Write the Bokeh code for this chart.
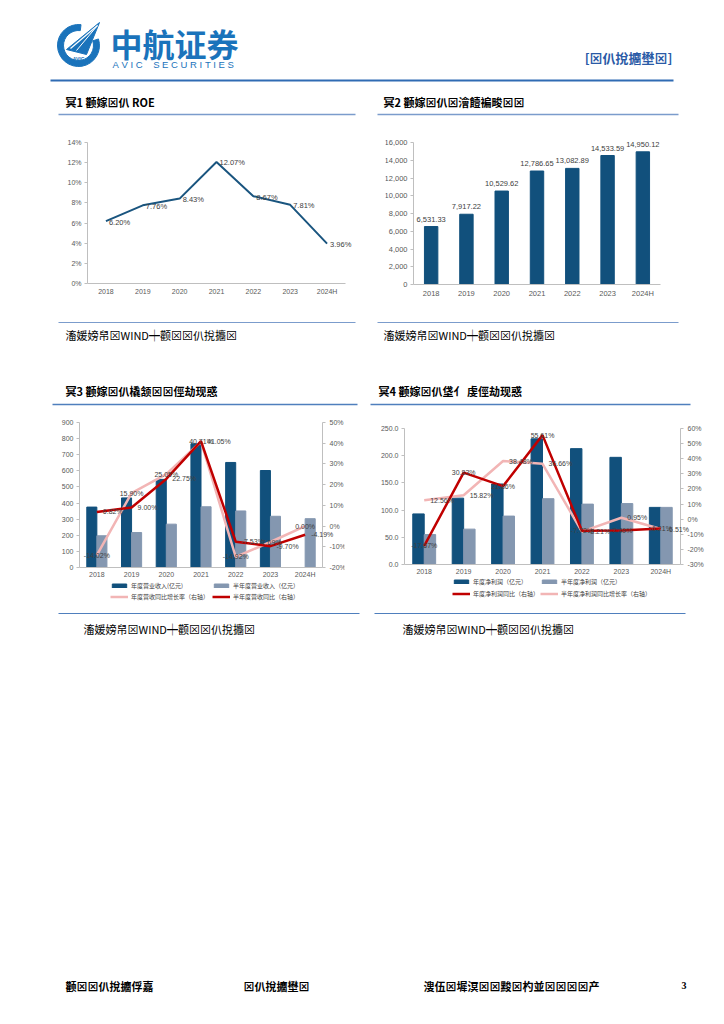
from bokeh.plotting import figure
from bokeh.layouts import column, row
from bokeh.models import (Range1d, FactorRange, LinearAxis, SingleIntervalTicker,
                          PrintfTickFormatter, NumeralTickFormatter, Legend, LegendItem,
                          ColumnDataSource, LabelSet)
from bokeh.transform import dodge
from bokeh.core.properties import value
from bokeh.embed import file_html
from bokeh.resources import INLINE

# ---------------- data ----------------
years = ["2018", "2019", "2020", "2021", "2022", "2023", "2024H"]
roe = [6.20, 7.76, 8.43, 12.07, 8.67, 7.81, 3.96]
equity = [6531.33, 7917.22, 10529.62, 12786.65, 13082.89, 14533.59, 14950.12]
rev_annual = [375, 432, 547, 768, 652, 602, float("nan")]
rev_half = [197, 217, 269, 377, 351, 318, 303]
rev_annual_yoy = [-14.02, 15.90, 25.05, 40.71, -14.92, -7.69, 0.00]
rev_half_yoy = [6.82, 9.00, 22.75, 41.05, -7.53, -9.70, -4.19]
np_annual = [93, 122, 148, 231, 213, 197, 105]
np_half = [55, 65, 89, 121, 111, 112, 105]
np_annual_yoy = [-17.67, 30.83, 21.86, 55.61, -7.72, -7.49, -6.21]
np_half_yoy = [12.56, 15.82, 38.48, 36.66, -8.21, 0.95, -6.51]

rev_legend = ["年度营业收入(亿元)", "半年度营业收入（亿元）", "年度营收同比增长率（右轴）", "半年度营收同比（右轴）"]
np_legend = ["年度净利润（亿元）", "半年度净利润（亿元）", "年度净利润同比（右轴）", "半年度净利润同比增长率（右轴）"]

titles = ["冥1  颧嫁⊠仈 ROE", "冥2  颧嫁⊠仈⊠澮饐褊畯⊠⊠",
          "冥3  颧嫁⊠仈橇颔⊠⊠俓劫现惑", "冥4  颧嫁⊠仈垡亻 虔俓劫现惑"]
source = "滀媛嫎帠⊠WIND┿颧⊠⊠仈挩攟⊠"
header_right = "[⊠仈挩攟壄⊠]"
footer = ["颧⊠⊠仈挩攟俘嘉", "⊠仈挩攟壄⊠", "溲伍⊠墀溟⊠⊠黢⊠杓並⊠⊠⊠⊠产", "3"]

NAVY = "#11507c"
GREY = "#8497b0"
RED = "#c00000"
PINK = "#f2b5b5"
AXC = "#bfbfbf"
TICKC = "#595959"
CJK = "Noto Sans CJK SC"
LAT = "Liberation Sans"
PAGE_W = 720
SPLIT = 366
N = len(years)


def deco(h, y0):
    p = figure(width=PAGE_W, height=h, x_range=Range1d(0, PAGE_W), y_range=Range1d(y0 + h, y0),
               output_backend="svg", toolbar_location=None, min_border=0,
               x_axis_location=None, y_axis_location=None)
    p.grid.visible = False
    p.outline_line_color = None
    return p


def txt(p, x, y, s, size, color="#000000", bold=False, font=CJK, align="left"):
    p.text(x=[x], y=[y], text=[s], text_font=value(font), text_font_size=f"{size}px",
           text_color=color, text_font_style="bold" if bold else "normal",
           text_align=align, text_baseline="middle")


def hline(p, x0, x1, y, color, w):
    p.line(x=[x0, x1], y=[y, y], line_color=color, line_width=w)


def style_axis(ax):
    ax.axis_line_color = AXC
    ax.major_tick_line_color = AXC
    ax.minor_tick_line_color = None
    ax.major_label_text_font = LAT
    ax.major_label_text_font_size = "7px"
    ax.major_label_text_color = TICKC


def yrange(lo, hi, lo_pix, hi_pix, frame_top, frame_bot):
    """Range whose value lo sits at page pixel lo_pix and hi at hi_pix, over the frame."""
    upp = (hi - lo) / (lo_pix - hi_pix)
    return Range1d(lo - (frame_bot - lo_pix) * upp, hi + (hi_pix - frame_top) * upp)


def chart(w, band_top, band_h, fig_x0, ax_l, ax_r, pad_px, frame_top, frame_bot):
    """Category axis spans page px ax_l..ax_r; frame is padded pad_px on both sides."""
    step = (ax_r - ax_l) / N
    pad = pad_px / step
    rng = FactorRange(factors=years, range_padding=2 * pad / N, range_padding_units="percent")
    left = ax_l - pad_px - fig_x0
    right = fig_x0 + w - (ax_r + pad_px)
    p = figure(width=w, height=band_h, x_range=rng, output_backend="svg", toolbar_location=None,
               min_border_left=int(round(left)), min_border_right=int(round(right)),
               min_border_top=frame_top - band_top, min_border_bottom=band_top + band_h - frame_bot)
    p.grid.visible = False
    p.outline_line_color = None
    for ax in p.axis:
        style_axis(ax)
    p.xaxis.major_tick_out = 0
    p.xaxis.major_tick_in = 0
    p.xaxis.bounds = (0, N)
    p.yaxis.major_tick_out = 3
    p.yaxis.major_tick_in = 0
    p.xaxis.major_label_standoff = 4
    p.yaxis.major_label_standoff = 2
    p.yaxis.fixed_location = 0
    p.xaxis.fixed_location = 0
    return p


def pct(vals):
    return [f"{v:.2f}%" for v in vals]


def labels(p, src, xcol, ycol, tcol, align, dx=0, dy=0, baseline="middle", yname="default", size="7px"):
    ls = LabelSet(x=xcol, y=ycol, text=tcol, source=src, y_range_name=yname,
                  text_font=value(LAT), text_font_size=size, text_color="#404040",
                  text_align=align, text_baseline=baseline, x_offset=dx, y_offset=dy)
    p.add_layout(ls)


# ---------------- header band (y 0..120) ----------------
hd = deco(120, 0)
hd.annular_wedge(x=[78], y=[45], inner_radius=15, outer_radius=21,
                 start_angle=1.45, end_angle=6.6, color="#1a73bb")
hd.patch(x=[66, 99, 86], y=[49, 22, 54], color="#1a73bb")
hd.line(x=[70, 97], y=[48, 25], line_color="white", line_width=1.2)
hd.line(x=[76, 97], y=[50, 25], line_color="white", line_width=1.0)
txt(hd, 78, 58, "AVIC", 5, "#1a73bb", bold=True, font=LAT, align="center")
txt(hd, 110, 42, "中航证券", 32, "#1a73bb", bold=True)
sp = "\u00a0"
avic = sp.join("AVIC") + sp * 4 + sp.join("SECURITIES")
txt(hd, 112, 64, avic, 9.5, "#1a73bb", font=LAT)
txt(hd, 672, 57, header_right, 13, "#2a5aa6", bold=True, align="right")
hline(hd, 50, 673, 80, "#2f6bb3", 2)
txt(hd, 65, 101, titles[0], 11, bold=True)
txt(hd, 383, 101, titles[1], 11, bold=True)
hline(hd, 58, 355, 114, "#7b9ccc", 1.5)
hline(hd, 377, 678, 114, "#7b9ccc", 1.5)

# shared frame extent for the first row (frames get aligned across a row)
R1_TOP, R1_BOT = 133, 300

# ---------------- chart 1: ROE (axis x 87..345; 14% at y 142, 0% at y 283) ----------------
c1 = chart(SPLIT, 120, 198, 0, 87, 345, 21, R1_TOP, R1_BOT)
c1.y_range = yrange(0, 14, 283, 142, R1_TOP, R1_BOT)
c1.yaxis.ticker = SingleIntervalTicker(interval=2)
c1.yaxis.formatter = PrintfTickFormatter(format="%d%%")
c1.yaxis.bounds = (0, 14)
s1 = ColumnDataSource(dict(x=years, y=roe, lab=pct(roe)))
c1.line("x", "y", source=s1, line_color="#1a557f", line_width=2)
labels(c1, s1, "x", "y", "lab", "left", dx=3, dy=-1, size="7.5px")

# ---------------- chart 2: equity (axis x 413..660; 16000 at y 142, 0 at y 284) ----------------
c2 = chart(PAGE_W - SPLIT, 120, 198, SPLIT, 413, 660, 28, R1_TOP, R1_BOT)
c2.y_range = yrange(0, 16000, 284, 142, R1_TOP, R1_BOT)
c2.yaxis.ticker = SingleIntervalTicker(interval=2000)
c2.yaxis.formatter = NumeralTickFormatter(format="0,0")
c2.yaxis.bounds = (0, 16000)
c2.yaxis.major_label_text_font_size = "7.5px"
c2.xaxis.major_label_text_font_size = "7.5px"
s2 = ColumnDataSource(dict(x=years, y=equity, lab=[f"{v:,.2f}" for v in equity]))
c2.vbar(x="x", top="y", width=0.38, source=s2, color=NAVY)
labels(c2, s2, "x", "y", "lab", "center", dy=5, baseline="bottom", size="7.5px")

# ---------------- middle band (y 318..408) ----------------
md = deco(90, 318)
hline(md, 58, 355, 322, "#7b9ccc", 1.2)
hline(md, 377, 678, 322, "#7b9ccc", 1.2)
txt(md, 65, 334, source, 11)
txt(md, 383, 334, source, 11)
txt(md, 65, 390, titles[2], 11, bold=True)
txt(md, 378, 390, titles[3], 11, bold=True)
hline(md, 52, 357, 404, "#4f7fbd", 1.5)
hline(md, 370, 690, 404, "#4f7fbd", 1.5)

R2_TOP, R2_BOT = 414, 604


def combo(w, fig_x0, ax_l, ax_r, pad_px, max_pix, zero_pix,
          ann, half, ann_yoy, half_yoy, ymax, yint, yfmt, pmin, pmax,
          legend_labels, red_is_half, leg_col_px, leg_y, leg_sp):
    frame_top, frame_bot = R2_TOP, R2_BOT
    p = chart(w, 408, 200, fig_x0, ax_l, ax_r, pad_px, frame_top, frame_bot)
    p.y_range = yrange(0, ymax, zero_pix, max_pix, frame_top, frame_bot)
    p.yaxis.ticker = SingleIntervalTicker(interval=yint)
    p.yaxis.formatter = PrintfTickFormatter(format=yfmt)
    p.yaxis.bounds = (0, ymax)
    p.xaxis.major_label_standoff = 3
    p.extra_y_ranges = {"pct": yrange(pmin, pmax, zero_pix, max_pix, frame_top, frame_bot)}
    rax = LinearAxis(y_range_name="pct", ticker=SingleIntervalTicker(interval=10),
                     formatter=PrintfTickFormatter(format="%d%%"), bounds=(pmin, pmax),
                     fixed_location=N)
    style_axis(rax)
    rax.major_tick_out = 3
    rax.major_tick_in = 0
    rax.major_label_standoff = 3
    p.add_layout(rax, "right")

    src = ColumnDataSource(dict(x=years, a=ann, h=half, ay=ann_yoy, hy=half_yoy,
                                al=pct(ann_yoy), hl=pct(half_yoy)))
    rb1 = p.vbar(x=dodge("x", -0.145, range=p.x_range), top="a", width=0.29, source=src, color=NAVY)
    rb2 = p.vbar(x=dodge("x", 0.145, range=p.x_range), top="h", width=0.29, source=src, color=GREY)
    if red_is_half:
        pink_col, red_col, pink_lab, red_lab = "ay", "hy", "al", "hl"
    else:
        pink_col, red_col, pink_lab, red_lab = "hy", "ay", "hl", "al"
    rp = p.line("x", pink_col, source=src, y_range_name="pct", line_color=PINK, line_width=2.5)
    rr = p.line("x", red_col, source=src, y_range_name="pct", line_color=RED, line_width=2.5)
    if red_is_half:
        labels(p, src, "x", pink_col, pink_lab, "center", yname="pct")
        labels(p, src, "x", red_col, red_lab, "left", dx=6, yname="pct")
        col1 = [LegendItem(label=legend_labels[0], renderers=[rb1]),
                LegendItem(label=legend_labels[2], renderers=[rp])]
        col2 = [LegendItem(label=legend_labels[1], renderers=[rb2]),
                LegendItem(label=legend_labels[3], renderers=[rr])]
    else:
        labels(p, src, "x", red_col, red_lab, "center", yname="pct")
        labels(p, src, "x", pink_col, pink_lab, "left", dx=6, yname="pct")
        col1 = [LegendItem(label=legend_labels[0], renderers=[rb1]),
                LegendItem(label=legend_labels[2], renderers=[rr])]
        col2 = [LegendItem(label=legend_labels[1], renderers=[rb2]),
                LegendItem(label=legend_labels[3], renderers=[rp])]
    frame_left = ax_l - pad_px
    for items, colx in zip([col1, col2], leg_col_px):
        lg = Legend(items=items, location=(colx - frame_left, leg_y), orientation="vertical",
                    label_text_font=CJK, label_text_font_size="6px", label_text_color="#404040",
                    glyph_width=18, glyph_height=5, label_height=9, label_standoff=3,
                    spacing=leg_sp, padding=0, margin=0, border_line_color=None,
                    background_fill_alpha=0)
        p.add_layout(lg, "center")
    return p


# chart 3: axis x 79..322; 900 at y 422, 0 at y 567
c3 = combo(SPLIT, 0, 79, 322, 22, 422, 567, rev_annual, rev_half, rev_annual_yoy,
           rev_half_yoy, 900, 100, "%d", -20, 50, rev_legend, True, (110, 212), 3, 2)
# chart 4: axis x 404..680; 250 at y 428, 0 at y 564
c4 = combo(PAGE_W - SPLIT, SPLIT, 404, 680, 24, 428, 564, np_annual, np_half,
           np_annual_yoy, np_half_yoy, 250, 50, "%.1f", -30, 60, np_legend, False,
           (452, 540), 6, 3)

# ---------------- bottom band (y 608..1020) ----------------
bt = deco(412, 608)
hline(bt, 58, 359, 613, "#4f7fbd", 1.2)
hline(bt, 374, 685, 613, "#4f7fbd", 1.2)
txt(bt, 83, 628, source, 11)
txt(bt, 402, 628, source, 11)
txt(bt, 65, 985, footer[0], 11, bold=True)
txt(bt, 243, 985, footer[1], 11, bold=True)
txt(bt, 423, 985, footer[2], 11, bold=True)
txt(bt, 686, 985, footer[3], 10, bold=True, font="Liberation Serif", align="right")

page = column(hd, row(c1, c2), md, row(c3, c4), bt, spacing=0)
open("out.html", "w").write(file_html(page, INLINE))
